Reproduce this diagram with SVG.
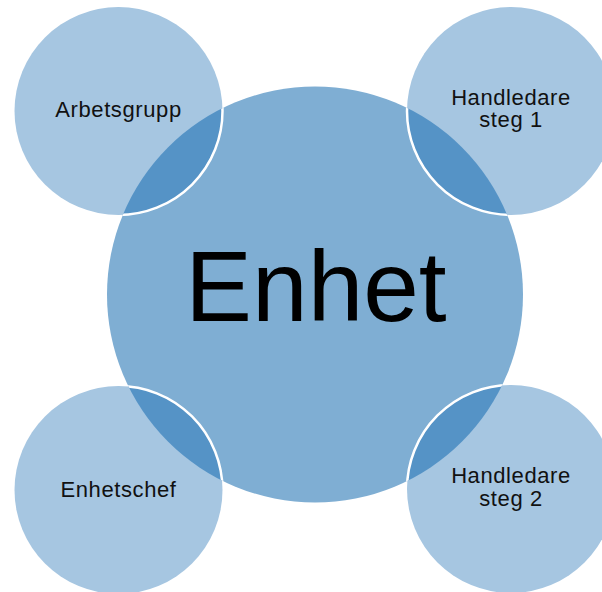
<svg xmlns="http://www.w3.org/2000/svg" width="602" height="592" viewBox="0 0 602 592">
<style>
.big{fill:#7FAED3}
.small{fill:#A6C6E1}
.ov{fill:#5593C6}
.rim{fill:none;stroke:#FFFFFF;stroke-width:2.5}
.lbl{font-family:"Liberation Sans",Arial,sans-serif;font-size:22px;fill:#111111;text-anchor:middle;letter-spacing:0.6px}
.title{font-family:"Liberation Sans",Arial,sans-serif;font-size:100px;fill:#000000;text-anchor:middle}
</style>
<defs>
<clipPath id="bigClip"><circle cx="315" cy="294.5" r="208"/></clipPath>
</defs>
<rect width="602" height="592" fill="#FFFFFF"/>
<g id="enhet">
<circle class="big" cx="315" cy="294.5" r="208"/>
</g>
<g id="arbetsgrupp">
<circle class="small" cx="118.5" cy="111" r="104"/>
<circle class="ov" cx="118.5" cy="111" r="104" clip-path="url(#bigClip)"/>
<circle class="rim" cx="118.5" cy="111" r="104" clip-path="url(#bigClip)"/>
<text class="lbl" x="118.5" y="117">Arbetsgrupp</text>
</g>
<g id="handledare1">
<circle class="small" cx="511" cy="111" r="104"/>
<circle class="ov" cx="511" cy="111" r="104" clip-path="url(#bigClip)"/>
<circle class="rim" cx="511" cy="111" r="104" clip-path="url(#bigClip)"/>
<text class="lbl" x="511" y="105">Handledare</text>
<text class="lbl" x="511" y="127">steg 1</text>
</g>
<g id="enhetschef">
<circle class="small" cx="118.5" cy="490" r="104"/>
<circle class="ov" cx="118.5" cy="490" r="104" clip-path="url(#bigClip)"/>
<circle class="rim" cx="118.5" cy="490" r="104" clip-path="url(#bigClip)"/>
<text class="lbl" x="118.5" y="497">Enhetschef</text>
</g>
<g id="handledare2">
<circle class="small" cx="511" cy="489" r="104"/>
<circle class="ov" cx="511" cy="489" r="104" clip-path="url(#bigClip)"/>
<circle class="rim" cx="511" cy="489" r="104" clip-path="url(#bigClip)"/>
<text class="lbl" x="511" y="483">Handledare</text>
<text class="lbl" x="511" y="506">steg 2</text>
</g>
<g id="connectors"/>
<text class="title" x="316" y="321">Enhet</text>
</svg>
